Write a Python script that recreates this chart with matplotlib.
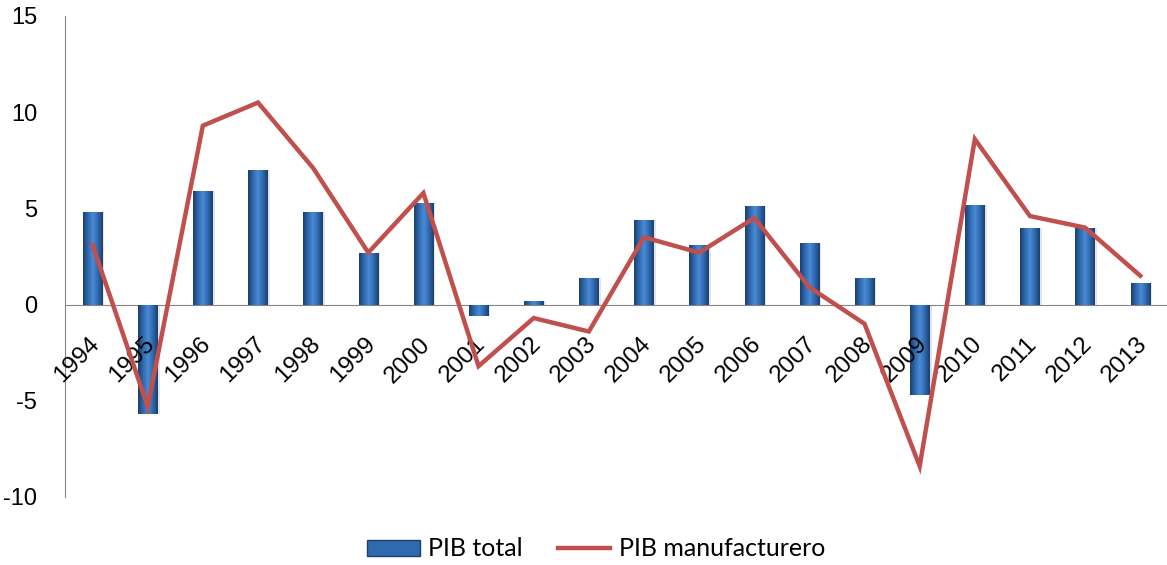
import numpy as np
import matplotlib
matplotlib.use("Agg")
import matplotlib.pyplot as plt
from matplotlib.colors import LinearSegmentedColormap
from matplotlib.patches import Rectangle
from matplotlib.lines import Line2D
from matplotlib.transforms import ScaledTranslation

years = ["1994", "1995", "1996", "1997", "1998", "1999", "2000", "2001", "2002", "2003",
         "2004", "2005", "2006", "2007", "2008", "2009", "2010", "2011", "2012", "2013"]
pib_total = [4.8, -5.7, 5.9, 7.0, 4.8, 2.7, 5.3, -0.6, 0.2, 1.4,
             4.4, 3.1, 5.1, 3.2, 1.4, -4.7, 5.2, 4.0, 4.0, 1.1]
pib_manufacturero = [3.1, -5.3, 9.3, 10.5, 7.1, 2.7, 5.8, -3.2, -0.7, -1.4,
                     3.5, 2.7, 4.5, 0.9, -1.0, -8.4, 8.6, 4.6, 4.0, 1.5]
y_ticks = [-10, -5, 0, 5, 10, 15]

BAR_W = 0.35
LINE_C = "#C0504D"
AXIS_C = "#868686"

fig = plt.figure(figsize=(11.67, 5.65), dpi=100)
ax = fig.add_axes([0.0557, 0.1204, 0.945, 0.8513])

# category axis runs along the zero line
ax.spines["bottom"].set_position(("data", 0))
ax.spines["bottom"].set_color(AXIS_C)
ax.spines["left"].set_color(AXIS_C)
ax.spines["top"].set_visible(False)
ax.spines["right"].set_visible(False)

x = np.arange(len(years))

# cylinder-like shading for the columns
shade = LinearSegmentedColormap.from_list(
    "col", ["#1B3F6E", "#2F69AE", "#4A8BD6", "#2F69AE", "#1B3F6E"])
grad = np.linspace(0, 1, 64).reshape(1, -1)

# soft drop shadow behind each column
ax.bar(x + 0.04, pib_total, width=BAR_W, bottom=0, color="#000000",
       alpha=0.10, zorder=1, linewidth=0)
bars = ax.bar(x, pib_total, width=BAR_W, color="#2F69AE", zorder=2, linewidth=0)
for b in bars:
    bx, by = b.get_x(), b.get_y()
    bw, bh = b.get_width(), b.get_height()
    im = ax.imshow(grad, cmap=shade, aspect="auto", zorder=3,
                   extent=(bx, bx + bw, min(by, by + bh), max(by, by + bh)))
    im.set_clip_path(b)

ax.plot(x, pib_manufacturero, color=LINE_C, linewidth=3.2, zorder=5,
        solid_joinstyle="miter")

ax.set_xlim(-0.5, len(years) - 0.5)
ax.set_ylim(-10, 15)
ax.set_yticks(y_ticks)
ax.set_yticklabels([str(v) for v in y_ticks], fontsize=17, family="Liberation Sans")
ax.tick_params(axis="both", length=0)
ax.tick_params(axis="y", pad=20)
ax.tick_params(axis="x", pad=20.5)

ax.set_xticks(x)
ax.set_xticklabels(years, rotation=45, ha="right", va="top",
                   rotation_mode="anchor", fontsize=17.5, family="Liberation Sans")
for lab in ax.get_xticklabels():
    lab.set_transform(lab.get_transform() +
                      ScaledTranslation(-0.04, 0.0, fig.dpi_scale_trans))
# year labels sit above the columns, below the line
ax.xaxis.set_zorder(4)

handles = [Rectangle((0, 0), 1, 1, facecolor="#2F69AE", edgecolor="#1B3F6E"),
           Line2D([0], [0], color=LINE_C, linewidth=3.2)]
fig.legend(handles, ["PIB total", "PIB manufacturero"], loc="center",
           bbox_to_anchor=(0.511, 0.0285), ncol=2, frameon=False,
           prop={"family": "Lato", "size": 18}, handlelength=2.1,
           handleheight=0.6, columnspacing=1.4, handletextpad=0.35)

fig.savefig("out.png", dpi=100)
